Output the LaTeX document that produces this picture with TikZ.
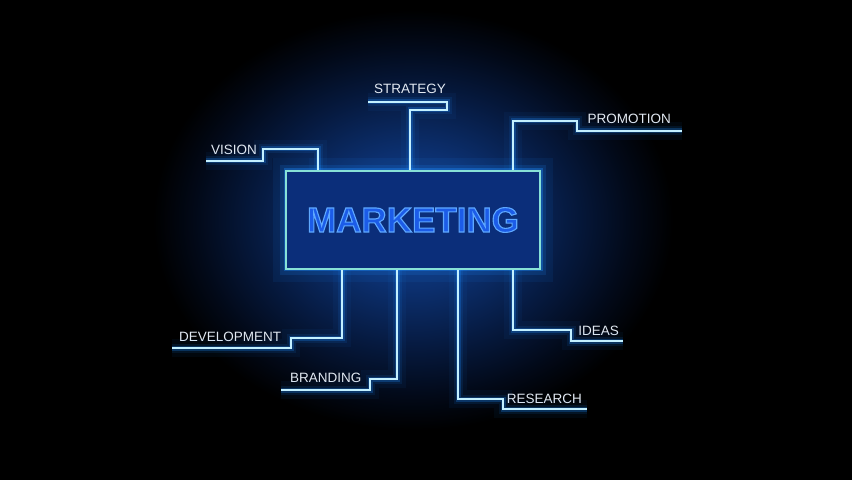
\documentclass[tikz,border=0pt]{standalone}
\usepackage{fontspec}
\setmainfont{Liberation Sans}
\usetikzlibrary{positioning}

\definecolor{hzA}{RGB}{20,70,150}
\definecolor{hzB}{RGB}{12,48,112}
\definecolor{hzC}{RGB}{6,26,64}
\definecolor{hzD}{RGB}{2,9,24}
\definecolor{glow}{RGB}{30,140,255}
\definecolor{core}{RGB}{195,240,255}
\definecolor{boxfill}{RGB}{11,46,122}
\definecolor{boxline}{RGB}{135,225,215}
\definecolor{mkfill}{RGB}{28,92,232}
\definecolor{lbltext}{RGB}{226,233,242}

\pgfdeclareradialshading{haze}{\pgfpoint{0bp}{0bp}}{color(0bp)=(hzA); color(8bp)=(hzB); color(15bp)=(hzC); color(21bp)=(hzD); color(25bp)=(black); color(50bp)=(black)}

% outlined letters (stroke + fill)
\newcommand{\neontext}[1]{\special{pdf:literal direct 0.37 0.66 1 RG 1.1 w 2 Tr}#1\special{pdf:literal direct 0 Tr}}

\tikzset{
  neon/.style={draw=core, line width=1.2pt,
    preaction={draw=glow, line width=18pt, opacity=.05},
    preaction={draw=glow, line width=9pt, opacity=.10},
    preaction={draw=glow, line width=5pt, opacity=.25},
    preaction={draw=glow, line width=2.8pt, opacity=.6}},
  lbl/.style={inner sep=0pt, text=lbltext, font=\fontsize{13.5}{13.5}\selectfont},
  mainbox/.style={fill=boxfill, draw=boxline, line width=1.4pt, inner sep=0pt,
    minimum width=254pt, minimum height=98pt,
    preaction={draw=glow, line width=26pt, opacity=.08},
    preaction={draw=glow, line width=12pt, opacity=.15},
    preaction={draw=glow, line width=5pt, opacity=.35},
    text=mkfill, font=\bfseries\fontsize{35}{35}\selectfont}
}

\begin{document}
\begin{tikzpicture}[x=1pt,y=1pt]
    \fill [black] (0,0) rectangle (852,480);
    \useasboundingbox (0,0) rectangle (852,480);
    \shade [shading=haze] (153,50) rectangle (673,470);

    \node [mainbox] (mkt) at (413,260) {\neontext{MARKETING}};

    % free ends of the lines
    \coordinate (visE) at (206,319);
    \coordinate (strE) at (368,378);
    \coordinate (proE) at (682,349);
    \coordinate (devE) at (172,132);
    \coordinate (braE) at (281,90);
    \coordinate (ideE) at (623,139);
    \coordinate (resE) at (587,71);

    \node [lbl,above right = 6pt and 5pt of visE] (vis) {VISION};
    \node [lbl,above right = 8pt and 6pt of strE] (str) {STRATEGY};
    \node [lbl,above left = 7pt and 11pt of proE] (pro) {PROMOTION};
    \node [lbl,above right = 6pt and 7pt of devE] (dev) {DEVELOPMENT};
    \node [lbl,above right = 7pt and 9pt of braE] (bra) {BRANDING};
    \node [lbl,above left = 5pt and 4pt of ideE] (ide) {IDEAS};
    \node [lbl,above left = 5pt and 5pt of resE] (res) {RESEARCH};

    \draw [neon] (visE) -- ++(57,0) -- ++(0,12) -| ([xshift=-95pt]mkt.north);
    \draw [neon] (strE) -- ++(79,0) -- ++(0,-8) -| ([xshift=-3pt]mkt.north);
    \draw [neon] (proE) -- ++(-105,0) -- ++(0,10) -| ([xshift=100pt]mkt.north);
    \draw [neon] (devE) -- ++(119,0) -- ++(0,10) -| ([xshift=-71pt]mkt.south);
    \draw [neon] (braE) -- ++(89,0) -- ++(0,11) -| ([xshift=-16pt]mkt.south);
    \draw [neon] (ideE) -- ++(-52,0) -- ++(0,11) -| ([xshift=100pt]mkt.south);
    \draw [neon] (resE) -- ++(-84,0) -- ++(0,10) -| ([xshift=45pt]mkt.south);
\end{tikzpicture}
\end{document}
